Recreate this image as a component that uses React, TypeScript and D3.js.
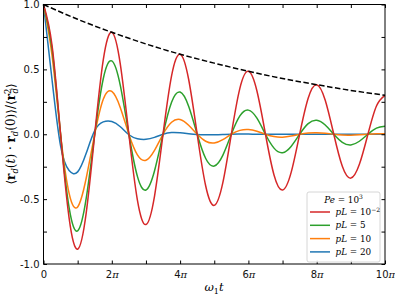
import React, { useEffect, useRef } from "react";
import * as d3 from "d3";

// sample times, in units of pi
const tPi = [
  0, 0.25, 0.5, 0.75, 1, 1.25, 1.5, 1.75, 2, 2.25, 2.5, 2.75, 3, 3.25, 3.5, 3.75, 4, 4.25, 4.5, 4.75, 5,
  5.25, 5.5, 5.75, 6, 6.25, 6.5, 6.75, 7, 7.25, 7.5, 7.75, 8, 8.25, 8.5, 8.75, 9, 9.25, 9.5, 9.75, 10,
];

const red = [
  1, 0.686, 0, -0.646, -0.886, -0.608, 0, 0.573, 0.786, 0.539, 0, -0.508, -0.696, -0.478, 0, 0.45, 0.617,
  0.424, 0, -0.399, -0.548, -0.375, 0, 0.354, 0.485, 0.333, 0, -0.314, -0.43, -0.296, 0, 0.278, 0.382,
  0.262, 0, -0.247, -0.338, -0.232, 0, 0.218, 0.3,
];
const green = [
  1, 0.658, 0, -0.566, -0.745, -0.495, 0, 0.428, 0.565, 0.375, 0, -0.325, -0.43, -0.283, 0, 0.247, 0.325,
  0.216, 0, -0.187, -0.245, -0.163, 0, 0.141, 0.186, 0.124, 0, -0.107, -0.142, -0.094, 0, 0.082, 0.108,
  0.071, 0, -0.062, -0.082, -0.054, 0, 0.047, 0.062,
];
const orange = [
  1, 0.608, 0, -0.456, -0.56, -0.339, 0, 0.269, 0.33, 0.205, 0, -0.159, -0.2, -0.124, 0, 0.092, 0.113,
  0.069, 0, -0.054, -0.067, -0.041, 0, 0.03, 0.037, 0.023, 0, -0.018, -0.023, -0.014, 0, 0.01, 0.012,
  0.008, 0, -0.006, -0.007, -0.004, 0, 0.003, 0.004,
];
const blue = [
  1, 0.42, -0.09, -0.28, -0.29, -0.147, 0.028, 0.095, 0.098, 0.058, -0.004, -0.034, -0.039, -0.024, 0,
  0.013, 0.011, 0.004, -0.002, -0.004, -0.004, -0.002, 0.0005, 0.001, 0.001, 0, 0, 0, 0, 0, 0, 0, 0, 0, 0,
  0, 0, 0, 0, 0, 0,
];

const envT = [0, 1, 2, 3, 4, 5, 6, 7, 8, 9, 10];
const envelope = [1, 0.886, 0.786, 0.696, 0.617, 0.548, 0.485, 0.43, 0.382, 0.338, 0.3];

const xTicks = [0, 1, 2, 3, 4, 5, 6, 7, 8, 9, 10];
const xTickLabels = ["0", "", "2", "", "4", "", "6", "", "8", "", "10"];
const yTicks = [-1, -0.75, -0.5, -0.25, 0, 0.25, 0.5, 0.75, 1];
const yTickLabels = ["-1.0", "", "-0.5", "", "0.0", "", "0.5", "", "1.0"];

const seriesNames = ["10", "5", "10", "20"];
const seriesColors = ["#d62728", "#2ca02c", "#ff7f0e", "#1f77b4"];
const seriesValues = [red, green, orange, blue];

const width = 395;
const height = 296;
const margin = { top: 4.5, right: 10, bottom: 32, left: 43.5 };
const serif = "'DejaVu Serif', 'Liberation Serif', serif";
const sans = "'DejaVu Sans', sans-serif";

const Chart = () => {
  const ref = useRef<SVGSVGElement>(null);

  const x = d3.scaleLinear().domain([0, 10]).range([margin.left, width - margin.right]);
  const y = d3.scaleLinear().domain([-1, 1]).range([height - margin.bottom, margin.top]);

  useEffect(() => {
    const svg = d3.select(ref.current);
    svg.selectAll("*").remove();

    const line = d3
      .line<number>()
      .x((d, i) => x(tPi[i]))
      .y((d) => y(d))
      .curve(d3.curveNatural);

    // series, drawn blue first so red sits on top
    [3, 2, 1, 0].forEach((s) => {
      svg
        .append("path")
        .datum(seriesValues[s])
        .attr("fill", "none")
        .attr("stroke", seriesColors[s])
        .attr("stroke-width", 1.5)
        .attr("d", line);
    });

    const envLine = d3
      .line<number>()
      .x((d, i) => x(envT[i]))
      .y((d) => y(d))
      .curve(d3.curveNatural);

    svg
      .append("path")
      .datum(envelope)
      .attr("fill", "none")
      .attr("stroke", "black")
      .attr("stroke-width", 1.5)
      .attr("stroke-dasharray", "5.5,2.5")
      .attr("d", envLine);

    // axes with inward ticks
    const tick = 3.5;
    const bottom = svg
      .append("g")
      .attr("transform", `translate(0,${y(-1)})`)
      .call(d3.axisBottom(x).tickValues(xTicks).tickSizeInner(-tick).tickSizeOuter(0).tickPadding(5).tickFormat(() => ""));
    bottom.select(".domain").remove();
    bottom
      .selectAll(".tick text")
      .attr("font-size", 10)
      .attr("font-family", sans)
      .attr("fill", "#111")
      .each(function (d, i) {
        const lab = xTickLabels[i];
        if (!lab) return;
        const t = d3.select(this);
        t.attr("dy", "0.9em");
        t.append("tspan").text(lab);
        if (lab !== "0") t.append("tspan").attr("font-family", serif).attr("font-style", "italic").text("π");
      });

    const top = svg
      .append("g")
      .attr("transform", `translate(0,${y(1)})`)
      .call(d3.axisTop(x).tickValues(xTicks).tickSizeInner(-tick).tickSizeOuter(0).tickFormat(() => ""));
    top.select(".domain").remove();

    const left = svg
      .append("g")
      .attr("transform", `translate(${x(0)},0)`)
      .call(d3.axisLeft(y).tickValues(yTicks).tickSizeInner(-tick).tickSizeOuter(0).tickPadding(4).tickFormat((d, i) => yTickLabels[i]));
    left.select(".domain").remove();
    left.selectAll(".tick text").attr("font-size", 10).attr("font-family", sans).attr("fill", "#111");

    const right = svg
      .append("g")
      .attr("transform", `translate(${x(10)},0)`)
      .call(d3.axisRight(y).tickValues(yTicks).tickSizeInner(-tick).tickSizeOuter(0).tickFormat(() => ""));
    right.select(".domain").remove();

    svg
      .append("rect")
      .attr("x", x(0))
      .attr("y", y(1))
      .attr("width", x(10) - x(0))
      .attr("height", y(-1) - y(1))
      .attr("fill", "none")
      .attr("stroke", "black")
      .attr("stroke-width", 1);

    // legend
    const lg = svg.append("g");
    lg.append("rect")
      .attr("x", 307)
      .attr("y", 192)
      .attr("width", 73)
      .attr("height", 70)
      .attr("rx", 2)
      .attr("fill", "white")
      .attr("fill-opacity", 0.85)
      .attr("stroke", "#ccc")
      .attr("stroke-width", 0.8);

    const title = lg
      .append("text")
      .attr("x", 343.5)
      .attr("y", 202.5)
      .attr("text-anchor", "middle")
      .attr("font-family", serif)
      .attr("font-size", 8.8);
    title.append("tspan").attr("font-style", "italic").text("Pe");
    title.append("tspan").text(" = 10");
    title.append("tspan").attr("font-size", 6).attr("dy", -3.5).text("3");

    seriesNames.forEach((name, i) => {
      const yy = 212 + i * 13.3;
      lg.append("line")
        .attr("x1", 310)
        .attr("x2", 330)
        .attr("y1", yy)
        .attr("y2", yy)
        .attr("stroke", seriesColors[i])
        .attr("stroke-width", 1.5);
      const t = lg
        .append("text")
        .attr("x", 335.5)
        .attr("y", yy + 3)
        .attr("font-family", serif)
        .attr("font-size", 8.8);
      t.append("tspan").attr("font-style", "italic").text("pL");
      t.append("tspan").text(" = " + name);
      if (i === 0) t.append("tspan").attr("font-size", 6).attr("dy", -3.5).text("−2");
    });
  }, []);

  return <svg ref={ref} width={width} height={height} style={{ position: "absolute", left: 0, top: 0, background: "white" }} />;
};

export default function App() {
  return (
    <div style={{ position: "absolute", left: 0, top: 0, width, height }}>
      <Chart />
      <svg width={width} height={height} style={{ position: "absolute", left: 0, top: 0, pointerEvents: "none" }}>
        <text x={214} y={291} textAnchor="middle" fontFamily={serif} fontSize={11.5}>
          <tspan fontStyle="italic">ω</tspan>
          <tspan fontSize={8} dy={2.5}>1</tspan>
          <tspan fontStyle="italic" dy={-2.5}>t</tspan>
        </text>
        <text transform="translate(15,134) rotate(-90)" textAnchor="middle" fontFamily={serif} fontSize={12}>
          ⟨<tspan fontWeight="bold">r</tspan>
          <tspan fontStyle="italic" fontSize={8.5} dy={2.5}>d</tspan>
          <tspan dy={-2.5}>(</tspan>
          <tspan fontStyle="italic">t</tspan>) · <tspan fontWeight="bold">r</tspan>
          <tspan fontStyle="italic" fontSize={8.5} dy={2.5}>d</tspan>
          <tspan dy={-2.5}>(0)⟩/⟨</tspan>
          <tspan fontWeight="bold">r</tspan>
          <tspan fontSize={8.5} dy={-4.5}>2</tspan>
          <tspan fontStyle="italic" fontSize={8.5} dx={-5} dy={7.5}>d</tspan>
          <tspan dy={-3}>⟩</tspan>
        </text>
      </svg>
    </div>
  );
}
